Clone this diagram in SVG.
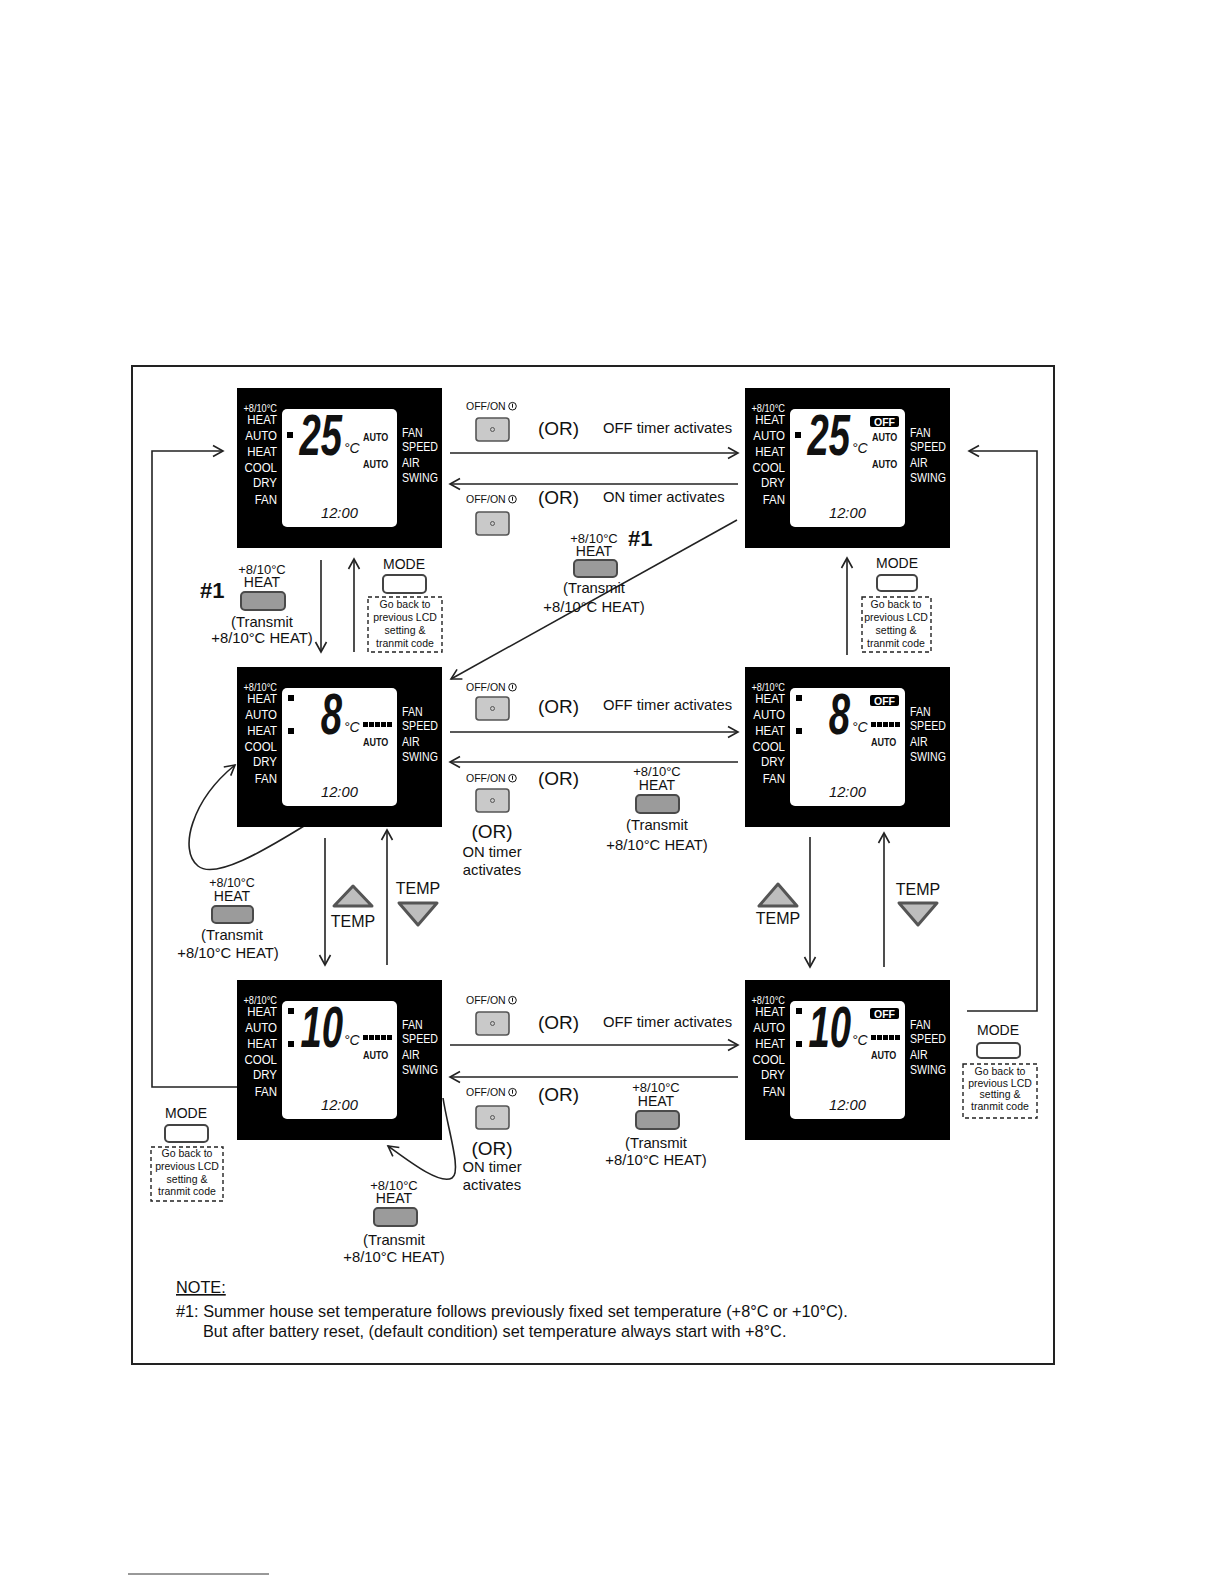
<svg xmlns="http://www.w3.org/2000/svg" width="1224" height="1584" viewBox="0 0 1224 1584">
<style>
text{font-family:'Liberation Sans',Arial,sans-serif;fill:#111}
.c{text-anchor:middle}
.w{fill:#fff}
.ln{stroke:#222;stroke-width:1.6;fill:none}
.arr{marker-end:url(#ah)}
.onoff{fill:#c9c9c9;stroke:#555;stroke-width:1.6}
.heat{fill:#9b9b9b;stroke:#4a4a4a;stroke-width:2}
.mode{fill:#fff;stroke:#444;stroke-width:2}
.dash{fill:none;stroke:#222;stroke-width:1.4;stroke-dasharray:4 3}
.tri{fill:#bdbdbd;stroke:#555;stroke-width:3;stroke-linejoin:round}
.or{font-size:19px}
.act{font-size:14.8px}
.sm{font-size:10.5px}
.bx{font-size:10.5px}
.big{font-size:58px;font-style:italic;font-weight:bold;text-anchor:end}
.au{font-size:11px;font-weight:bold}
</style>
<defs>
<marker id="ah" markerUnits="userSpaceOnUse" markerWidth="14" markerHeight="14" refX="12" refY="7" orient="auto">
<path d="M2,1.5 L12,7 L2,12.5" fill="none" stroke="#222" stroke-width="1.6"/>
</marker>
<g id="lcdBase">
<rect width="205" height="160" fill="#000"/>
<rect x="45" y="21" width="115" height="118" rx="5" fill="#fff"/>
<g transform="scale(0.92,1)" text-anchor="end" font-size="12.5">
<text class="w" x="43.5" y="24" font-size="10">+8/10°C</text>
<text class="w" x="43.5" y="36">HEAT</text>
<text class="w" x="43.5" y="52">AUTO</text>
<text class="w" x="43.5" y="68">HEAT</text>
<text class="w" x="43.5" y="84">COOL</text>
<text class="w" x="43.5" y="99">DRY</text>
<text class="w" x="43.5" y="116">FAN</text>
</g>
<g transform="translate(165,0) scale(0.85,1)" font-size="12.5">
<text class="w" x="0" y="49">FAN</text>
<text class="w" x="0" y="63">SPEED</text>
<text class="w" x="0" y="79">AIR</text>
<text class="w" x="0" y="94">SWING</text>
</g>
<text transform="translate(84,130) scale(0.95,1)" font-size="15.5" font-style="italic">12:00</text>
<text x="107" y="65" font-size="14" font-style="italic">°C</text>
</g>
<g id="offBadge">
<rect x="125" y="28" width="29" height="11" rx="2" fill="#000"/>
<text class="w c" x="139.5" y="37.5" font-size="10.5" font-weight="bold">OFF</text>
</g>
<g id="bars">
<rect x="126" y="55" width="5" height="5" fill="#000"/>
<rect x="132" y="55" width="5" height="5" fill="#000"/>
<rect x="138" y="55" width="5" height="5" fill="#000"/>
<rect x="144" y="55" width="5" height="5" fill="#000"/>
<rect x="150" y="55" width="5" height="5" fill="#000"/>
</g>
<g id="onoffLbl">
<text class="sm" x="0" y="0">OFF/ON</text>
<circle cx="46.5" cy="-3.8" r="3.8" fill="none" stroke="#111" stroke-width="1"/>
<line x1="46.5" y1="-6.3" x2="46.5" y2="-2.3" stroke="#111" stroke-width="1"/>
</g>
<g id="onoffBtn">
<rect x="0" y="0" width="33" height="23" rx="3" class="onoff"/>
<circle cx="16.5" cy="11.5" r="2" fill="none" stroke="#555" stroke-width="1"/>
</g>
</defs>

<rect width="1224" height="1584" fill="#fff"/>
<rect x="132" y="366" width="922" height="998" fill="none" stroke="#222" stroke-width="2"/>

<g id="connectors">
<line class="ln arr" x1="450" y1="453" x2="738" y2="453"/>
<line class="ln arr" x1="738" y1="484" x2="450" y2="484"/>
<line class="ln arr" x1="321" y1="560" x2="321" y2="652"/>
<line class="ln arr" x1="354" y1="652" x2="354" y2="559"/>
<line class="ln arr" x1="737" y1="520" x2="451" y2="679"/>
<line class="ln arr" x1="847" y1="655" x2="847" y2="558"/>
<line class="ln arr" x1="450" y1="732" x2="738" y2="732"/>
<line class="ln arr" x1="738" y1="762" x2="450" y2="762"/>
<path class="ln arr" d="M304,826 C265,850 215,880 198,866 C178,850 192,800 235,765"/>
<line class="ln arr" x1="325" y1="838" x2="325" y2="965"/>
<line class="ln arr" x1="387" y1="965" x2="387" y2="830"/>
<line class="ln arr" x1="810" y1="837" x2="810" y2="967"/>
<line class="ln arr" x1="884" y1="967" x2="884" y2="833"/>
<line class="ln arr" x1="450" y1="1045" x2="738" y2="1045"/>
<line class="ln arr" x1="738" y1="1077" x2="450" y2="1077"/>
<path class="ln arr" d="M443,1098 C448,1130 462,1172 452,1178 C440,1185 410,1162 388,1146"/>
<polyline class="ln arr" points="237,1087 152,1087 152,451 223,451"/>
<polyline class="ln arr" points="967,1011 1037,1011 1037,451 969,451"/>
</g>

<g id="lcd-top-left" transform="translate(237,388)">
<use href="#lcdBase"/>
<rect x="50" y="44" width="6" height="6" fill="#000"/>
<text class="big" transform="translate(105,67) scale(0.66,1)">25</text>
<text class="au" transform="translate(126,53) scale(0.82,1)">AUTO</text>
<text class="au" transform="translate(126,80) scale(0.82,1)">AUTO</text>
</g>
<g id="lcd-top-right" transform="translate(745,388)">
<use href="#lcdBase"/>
<use href="#offBadge"/>
<rect x="50" y="44" width="6" height="6" fill="#000"/>
<text class="big" transform="translate(105,67) scale(0.66,1)">25</text>
<text class="au" transform="translate(127,53) scale(0.82,1)">AUTO</text>
<text class="au" transform="translate(127,80) scale(0.82,1)">AUTO</text>
</g>
<g id="lcd-mid-left" transform="translate(237,667)">
<use href="#lcdBase"/>
<rect x="51" y="28" width="6" height="6" fill="#000"/>
<rect x="51" y="61" width="6" height="6" fill="#000"/>
<text class="big" transform="translate(105,67) scale(0.66,1)">8</text>
<use href="#bars"/>
<text class="au" transform="translate(126,79) scale(0.82,1)">AUTO</text>
</g>
<g id="lcd-mid-right" transform="translate(745,667)">
<use href="#lcdBase"/>
<use href="#offBadge"/>
<rect x="51" y="28" width="6" height="6" fill="#000"/>
<rect x="51" y="61" width="6" height="6" fill="#000"/>
<text class="big" transform="translate(105,67) scale(0.66,1)">8</text>
<use href="#bars"/>
<text class="au" transform="translate(126,79) scale(0.82,1)">AUTO</text>
</g>
<g id="lcd-bot-left" transform="translate(237,980)">
<use href="#lcdBase"/>
<rect x="51" y="28" width="6" height="6" fill="#000"/>
<rect x="51" y="61" width="6" height="6" fill="#000"/>
<text class="big" transform="translate(106,67) scale(0.66,1)">10</text>
<use href="#bars"/>
<text class="au" transform="translate(126,79) scale(0.82,1)">AUTO</text>
</g>
<g id="lcd-bot-right" transform="translate(745,980)">
<use href="#lcdBase"/>
<use href="#offBadge"/>
<rect x="51" y="28" width="6" height="6" fill="#000"/>
<rect x="51" y="61" width="6" height="6" fill="#000"/>
<text class="big" transform="translate(106,67) scale(0.66,1)">10</text>
<use href="#bars"/>
<text class="au" transform="translate(126,79) scale(0.82,1)">AUTO</text>
</g>

<g id="top-forward">
<use href="#onoffLbl" x="466" y="410"/>
<use href="#onoffBtn" x="476" y="418"/>
<text class="or" x="538" y="435">(OR)</text>
<text class="act" x="603" y="433">OFF timer activates</text>
</g>
<g id="top-back">
<use href="#onoffLbl" x="466" y="503"/>
<use href="#onoffBtn" x="476" y="512"/>
<text class="or" x="538" y="504">(OR)</text>
<text class="act" x="603" y="502">ON timer activates</text>
</g>
<g id="diag-heat">
<text class="c" x="594" y="543" font-size="13">+8/10°C</text>
<text class="c" x="594" y="556" font-size="14">HEAT</text>
<rect x="574" y="560" width="43" height="17" rx="4" class="heat"/>
<text class="c act" x="594" y="593">(Transmit</text>
<text class="c act" x="594" y="612">+8/10°C HEAT)</text>
<text x="628" y="546" font-size="22" font-weight="bold">#1</text>
</g>
<g id="tl-heat">
<text x="200" y="598" font-size="22" font-weight="bold">#1</text>
<text class="c" x="262" y="574" font-size="13">+8/10°C</text>
<text class="c" x="262" y="587" font-size="14">HEAT</text>
<rect x="241" y="592" width="44" height="18" rx="4" class="heat"/>
<text class="c act" x="262" y="627">(Transmit</text>
<text class="c act" x="262" y="643">+8/10°C HEAT)</text>
</g>
<g id="tl-mode">
<text class="c" x="404" y="569" font-size="14">MODE</text>
<rect x="383" y="575" width="43" height="18" rx="4" class="mode"/>
<rect x="368" y="597" width="74" height="55" class="dash"/>
<text class="c bx" x="405" y="608">Go back to</text>
<text class="c bx" x="405" y="621">previous LCD</text>
<text class="c bx" x="405" y="634">setting &amp;</text>
<text class="c bx" x="405" y="647">tranmit code</text>
</g>
<g id="tr-mode">
<text class="c" x="897" y="568" font-size="14">MODE</text>
<rect x="877" y="575" width="40" height="16" rx="4" class="mode"/>
<rect x="862" y="597" width="69" height="55" class="dash"/>
<text class="c bx" x="896" y="608">Go back to</text>
<text class="c bx" x="896" y="621">previous LCD</text>
<text class="c bx" x="896" y="634">setting &amp;</text>
<text class="c bx" x="896" y="647">tranmit code</text>
</g>

<g id="mid-forward">
<use href="#onoffLbl" x="466" y="691"/>
<use href="#onoffBtn" x="476" y="697"/>
<text class="or" x="538" y="713">(OR)</text>
<text class="act" x="603" y="710">OFF timer activates</text>
</g>
<g id="mid-back">
<use href="#onoffLbl" x="466" y="782"/>
<use href="#onoffBtn" x="476" y="789"/>
<text class="or" x="538" y="785">(OR)</text>
<text class="c" x="657" y="776" font-size="13">+8/10°C</text>
<text class="c" x="657" y="790" font-size="14">HEAT</text>
<rect x="636" y="795" width="43" height="18" rx="4" class="heat"/>
<text class="c act" x="657" y="830">(Transmit</text>
<text class="c act" x="657" y="850">+8/10°C HEAT)</text>
<text class="c or" x="492" y="838">(OR)</text>
<text class="c act" x="492" y="857">ON timer</text>
<text class="c act" x="492" y="875">activates</text>
</g>
<g id="ml-heat">
<text class="c" x="232" y="887" font-size="12.5">+8/10°C</text>
<text class="c" x="232" y="901" font-size="14">HEAT</text>
<rect x="212" y="906" width="41" height="17" rx="4" class="heat"/>
<text class="c act" x="232" y="940">(Transmit</text>
<text class="c act" x="228" y="958">+8/10°C HEAT)</text>
</g>
<g id="ml-temp">
<polygon class="tri" points="353,886 334,906 372,906"/>
<text class="c" x="353" y="927" font-size="16">TEMP</text>
<text class="c" x="418" y="894" font-size="16">TEMP</text>
<polygon class="tri" points="399,903 437,903 418,925"/>
</g>
<g id="mr-temp">
<polygon class="tri" points="778,884 759,906 797,906"/>
<text class="c" x="778" y="924" font-size="16">TEMP</text>
<text class="c" x="918" y="895" font-size="16">TEMP</text>
<polygon class="tri" points="899,903 937,903 918,925"/>
</g>

<g id="bot-forward">
<use href="#onoffLbl" x="466" y="1004"/>
<use href="#onoffBtn" x="476" y="1012"/>
<text class="or" x="538" y="1029">(OR)</text>
<text class="act" x="603" y="1027">OFF timer activates</text>
</g>
<g id="bot-back">
<use href="#onoffLbl" x="466" y="1096"/>
<use href="#onoffBtn" x="476" y="1106"/>
<text class="or" x="538" y="1101">(OR)</text>
<text class="c" x="656" y="1092" font-size="13">+8/10°C</text>
<text class="c" x="656" y="1106" font-size="14">HEAT</text>
<rect x="636" y="1111" width="43" height="18" rx="4" class="heat"/>
<text class="c act" x="656" y="1148">(Transmit</text>
<text class="c act" x="656" y="1165">+8/10°C HEAT)</text>
<text class="c or" x="492" y="1155">(OR)</text>
<text class="c act" x="492" y="1172">ON timer</text>
<text class="c act" x="492" y="1190">activates</text>
</g>
<g id="bl-heat">
<text class="c" x="394" y="1190" font-size="13">+8/10°C</text>
<text class="c" x="394" y="1203" font-size="14">HEAT</text>
<rect x="374" y="1208" width="43" height="18" rx="4" class="heat"/>
<text class="c act" x="394" y="1245">(Transmit</text>
<text class="c act" x="394" y="1262">+8/10°C HEAT)</text>
</g>
<g id="bl-mode">
<text class="c" x="186" y="1118" font-size="14">MODE</text>
<rect x="165" y="1125" width="43" height="17" rx="4" class="mode"/>
<rect x="151" y="1147" width="72" height="54" class="dash"/>
<text class="c bx" x="187" y="1157">Go back to</text>
<text class="c bx" x="187" y="1170">previous LCD</text>
<text class="c bx" x="187" y="1183">setting &amp;</text>
<text class="c bx" x="187" y="1195">tranmit code</text>
</g>
<g id="br-mode">
<text class="c" x="998" y="1035" font-size="14">MODE</text>
<rect x="977" y="1043" width="43" height="15" rx="4" class="mode"/>
<rect x="963" y="1064" width="74" height="54" class="dash"/>
<text class="c bx" x="1000" y="1075">Go back to</text>
<text class="c bx" x="1000" y="1087">previous LCD</text>
<text class="c bx" x="1000" y="1098">setting &amp;</text>
<text class="c bx" x="1000" y="1110">tranmit code</text>
</g>

<g id="note">
<text x="176" y="1293" font-size="16.3" text-decoration="underline">NOTE:</text>
<text x="176" y="1317" font-size="16.3">#1: Summer house set temperature follows previously fixed set temperature (+8°C or +10°C).</text>
<text x="203" y="1337" font-size="16.3">But after battery reset, (default condition) set temperature always start with +8°C.</text>
</g>
<line x1="128" y1="1574" x2="269" y2="1574" stroke="#333" stroke-width="1"/>
</svg>
